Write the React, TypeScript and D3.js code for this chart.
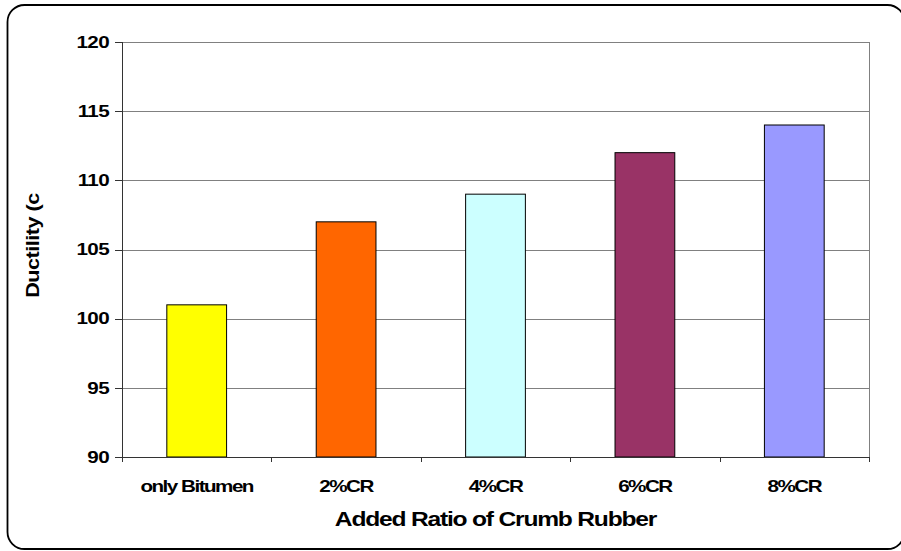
import React from "react";
import * as d3 from "d3";

// Ductility of bitumen by crumb rubber content
const categories = ["only Bitumen", "2%CR", "4%CR", "6%CR", "8%CR"];
const ductility = [101, 107, 109, 112, 114];
const barColors = ["#FFFF00", "#FF6600", "#CCFFFF", "#993366", "#9999FF"];
const yTicks = [90, 95, 100, 105, 110, 115, 120];
const yTitle = "Ductility (c";
const xTitle = "Added Ratio of Crumb Rubber";

const W = 901;
const H = 551;
const plot = { left: 122, right: 869, top: 42, bottom: 457 };
const FONT = "'Liberation Sans', Arial, Helvetica, sans-serif";
// glyphs are drawn a little wide, as in the spreadsheet export
const STRETCH = 1.25;

export default function App() {
  const x = d3
    .scaleBand<string>()
    .domain(categories)
    .range([plot.left, plot.right])
    .paddingInner(0)
    .paddingOuter(0);
  const y = d3.scaleLinear().domain([90, 120]).range([plot.bottom, plot.top]);
  const bw = x.bandwidth() * 0.4;
  const boundaries = d3.range(categories.length + 1).map((i) => plot.left + i * x.step());
  const px = (v: number) => Math.round(v) + 0.5;

  return (
    <svg
      width={W}
      height={H}
      viewBox={`0 0 ${W} ${H}`}
      style={{ position: "absolute", left: 0, top: 0, background: "#fff" }}
    >
      {/* chart frame */}
      <rect x={7.5} y={5} width={897} height={544} rx={17} ry={17} fill="#fff" stroke="#000" strokeWidth={1.8} />

      {/* gridlines */}
      {yTicks.map((t) => (
        <line key={`g${t}`} x1={plot.left} x2={plot.right} y1={px(y(t))} y2={px(y(t))} stroke="#808080" strokeWidth={1} />
      ))}
      <line x1={plot.right + 0.5} x2={plot.right + 0.5} y1={plot.top} y2={plot.bottom} stroke="#808080" strokeWidth={1} />

      {/* bars */}
      {categories.map((c, i) => {
        const cx = (x(c) as number) + x.bandwidth() / 2;
        const top = y(ductility[i]);
        return (
          <rect
            key={c}
            x={cx - bw / 2}
            y={top}
            width={bw}
            height={y(90) - top}
            fill={barColors[i]}
            stroke="#000"
            strokeWidth={1}
          />
        );
      })}

      {/* axes */}
      <line x1={plot.left + 0.5} x2={plot.left + 0.5} y1={plot.top} y2={plot.bottom} stroke="#333" strokeWidth={1} />
      <line x1={plot.left} x2={plot.right + 1} y1={plot.bottom + 0.5} y2={plot.bottom + 0.5} stroke="#333" strokeWidth={1} />
      {yTicks.map((t) => (
        <g key={`t${t}`}>
          <line x1={115} x2={plot.left} y1={px(y(t))} y2={px(y(t))} stroke="#333" strokeWidth={1} />
          <g transform={`translate(109, ${y(t) + 5.8}) scale(${STRETCH}, 1)`}>
            <text
              x={0}
              y={0}
              textAnchor="end"
              fontFamily={FONT}
              fontWeight="bold"
              fontSize={16.5}
              letterSpacing={-0.5}
              fill="#000"
            >
              {t}
            </text>
          </g>
        </g>
      ))}
      {boundaries.map((bx, i) => (
        <line key={`xt${i}`} x1={px(bx)} x2={px(bx)} y1={plot.bottom} y2={plot.bottom + 5} stroke="#333" strokeWidth={1} />
      ))}
      {categories.map((c) => (
        <g key={`xl${c}`} transform={`translate(${(x(c) as number) + x.bandwidth() / 2}, 492) scale(${STRETCH}, 1)`}>
          <text
            x={0}
            y={0}
            textAnchor="middle"
            fontFamily={FONT}
            fontWeight="bold"
            fontSize={16.5}
            letterSpacing={-1.2}
            fill="#000"
          >
            {c}
          </text>
        </g>
      ))}

      {/* axis titles */}
      <g transform={`translate(${(plot.left + plot.right) / 2}, 526) scale(1.2, 1)`}>
        <text
          x={0}
          y={0}
          textAnchor="middle"
          fontFamily={FONT}
          fontWeight="bold"
          fontSize={20.5}
          letterSpacing={-1}
          fill="#000"
        >
          {xTitle}
        </text>
      </g>
      <g transform={`translate(39, 245.5) rotate(-90) scale(1.2, 1)`}>
        <text
          x={0}
          y={0}
          textAnchor="middle"
          fontFamily={FONT}
          fontWeight="bold"
          fontSize={18}
          letterSpacing={-0.4}
          fill="#000"
        >
          {yTitle}
        </text>
      </g>
    </svg>
  );
}
